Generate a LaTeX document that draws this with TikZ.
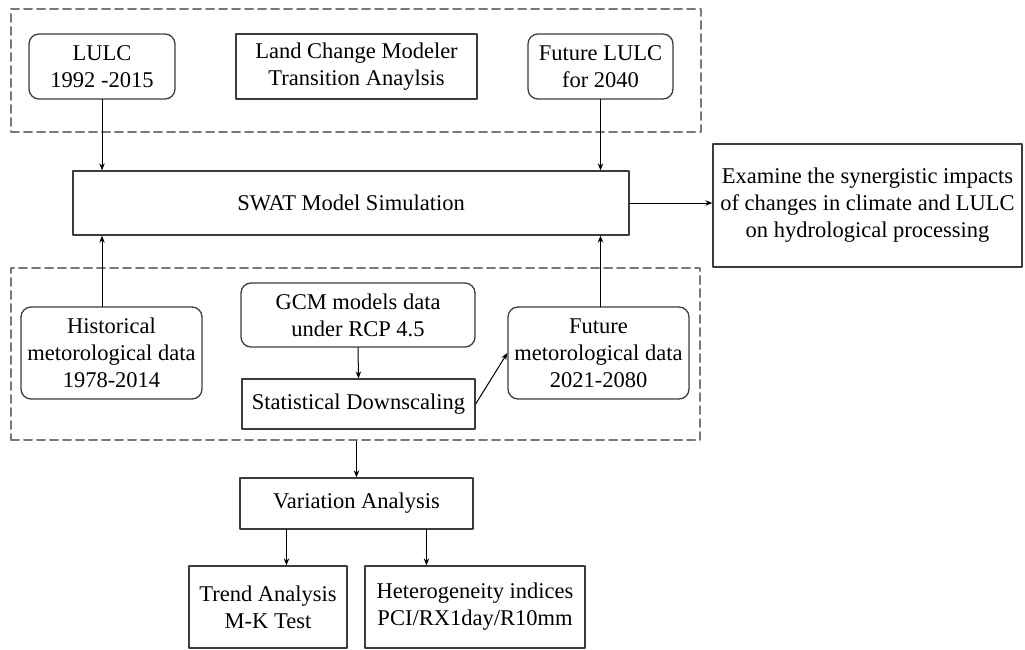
\documentclass[tikz,border=0pt]{standalone}
\usepackage{fontspec}
\setmainfont{Liberation Serif}
\usetikzlibrary{arrows.meta}
\definecolor{boxgray}{RGB}{60,60,60}
\definecolor{grpgray}{RGB}{120,120,120}

\begin{document}
\begin{tikzpicture}[x=1pt,y=-1pt,line cap=round,line join=round,
  font=\fontsize{22.5}{27}\selectfont,
  box/.style={draw=boxgray,line width=1.3pt,inner sep=0pt,align=center},
  rbox/.style={box,rounded corners=10pt},
  grp/.style={draw=grpgray,line width=2pt,dash pattern=on 8pt off 5pt,inner sep=0pt},
  arr/.style={-{Stealth[length=7pt,width=5.5pt]},black,line width=1pt}]
\useasboundingbox (0,0) rectangle (1025,650);
% dashed groups
\node[grp,minimum width=690pt,minimum height=123pt] (lulcgrp) at (356,70.5) {};
\node[grp,minimum width=689pt,minimum height=172pt] (climgrp) at (355.5,354) {};
% land use part
\node[rbox,minimum width=146pt,minimum height=65pt] (lulc) at (102,66.5) {LULC\\1992 -2015};
\node[box,minimum width=241pt,minimum height=65pt] (lcm) at (356.5,66.5) {Land Change Modeler\\Transition Anaylsis};
\node[rbox,minimum width=145pt,minimum height=65pt] (futlulc) at (600.5,66.5) {Future LULC\\for 2040};
% model and outcome
\node[box,minimum width=556pt,minimum height=64pt] (swat) at (351,203) {SWAT Model Simulation};
\node[box,minimum width=309pt,minimum height=123pt] (exam) at (867.5,205.5) {Examine the synergistic impacts\\of changes in climate and LULC\\on hydrological processing};
% climate part
\node[rbox,minimum width=181pt,minimum height=92pt] (hist) at (111.5,353) {Historical\\metorological data\\1978-2014};
\node[rbox,minimum width=234pt,minimum height=64pt] (gcm) at (358,315) {GCM models data\\under RCP 4.5};
\node[box,minimum width=233pt,minimum height=50pt] (stat) at (358.5,404) {Statistical Downscaling};
\node[rbox,minimum width=181pt,minimum height=92pt] (futmet) at (598.5,353) {Future\\metorological data\\2021-2080};
% analysis
\node[box,minimum width=233pt,minimum height=51pt] (var) at (356.5,503.5) {Variation Analysis};
\node[box,minimum width=158pt,minimum height=82pt] (trend) at (268,607) {Trend Analysis\\M-K Test};
\node[box,minimum width=220pt,minimum height=82pt] (het) at (475,607) {Heterogeneity indices\\PCI/RX1day/R10mm};
% connectors
\draw[arr] (lulc.south) -- (lulc.south |- swat.north);
\draw[arr] (futlulc.south) -- (futlulc.south |- swat.north);
\draw[arr] (lulc.south |- hist.north) -- (lulc.south |- swat.south);
\draw[arr] (futlulc.south |- futmet.north) -- (futlulc.south |- swat.south);
\draw[arr] (swat.east) -- (swat.east -| exam.west);
\draw[arr] (gcm.south) -- (stat.north);
\draw[arr] (stat.east) -- (futmet.west);
\draw[arr] (climgrp.south -| var.north) -- (var.north);
\draw[arr] ([xshift=-70pt]var.south) -- ([xshift=-70pt]var.south |- trend.north);
\draw[arr] ([xshift=70pt]var.south) -- ([xshift=70pt]var.south |- het.north);
\end{tikzpicture}
\end{document}
